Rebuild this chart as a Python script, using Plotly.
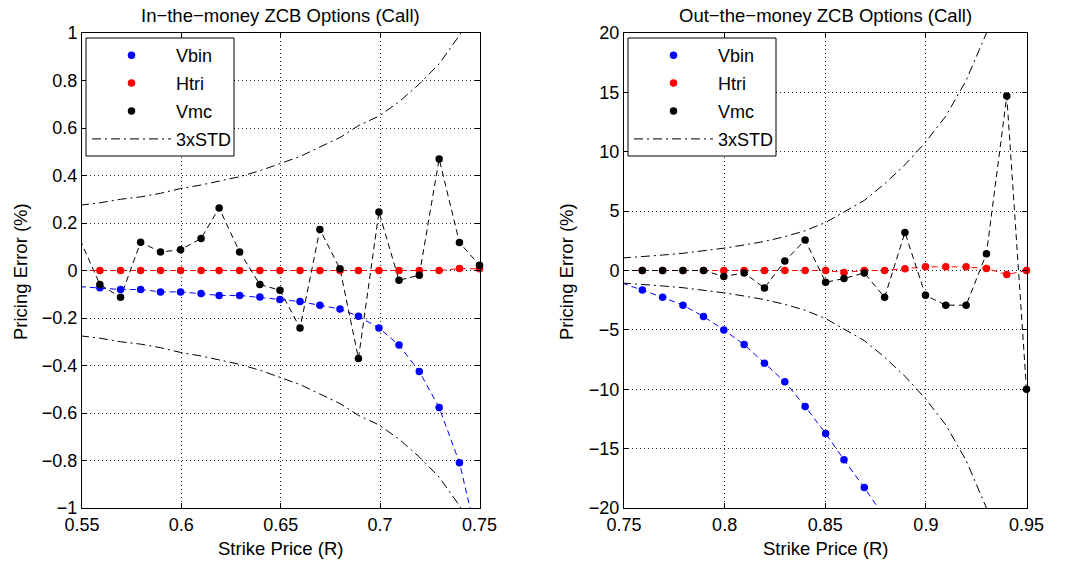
import plotly.graph_objects as go

FONT = "Liberation Sans, Arial, Helvetica, sans-serif"
MINUS = "\u2212"

# ---- In-the-money panel ----
itm_strike = [0.549, 0.559, 0.5694, 0.5795, 0.5895, 0.5996, 0.6099, 0.619, 0.6293, 0.6395,
              0.6496, 0.6597, 0.6697, 0.6798, 0.6891, 0.6994, 0.7095, 0.7197, 0.7297, 0.7399, 0.75]
itm_vbin = [-0.068, -0.073, -0.080, -0.080, -0.090, -0.090, -0.097, -0.105, -0.105, -0.112,
            -0.122, -0.131, -0.146, -0.162, -0.193, -0.242, -0.314, -0.425, -0.577, -0.809, -1.17]
itm_htri = [0.0, 0.0, 0.0, 0.0, 0.0, 0.0, 0.0, 0.0, 0.0, 0.0,
            0.0, 0.0, 0.0, 0.0, 0.0, 0.0, 0.0, 0.0, 0.0, 0.008, 0.007]
itm_vmc = [0.13, -0.059, -0.113, 0.119, 0.078, 0.087, 0.135, 0.263, 0.078, -0.059,
           -0.083, -0.242, 0.173, 0.007, -0.37, 0.246, -0.041, -0.02, 0.47, 0.118, 0.022]
itm_std3 = [0.275, 0.285, 0.30, 0.31, 0.325, 0.345, 0.36, 0.375, 0.395, 0.42,
            0.45, 0.48, 0.52, 0.56, 0.61, 0.65, 0.71, 0.785, 0.87, 0.99, 1.15]

# ---- Out-the-money panel ----
otm_strike = [0.749, 0.7591, 0.7692, 0.7793, 0.7895, 0.7996, 0.8097, 0.8198, 0.8299, 0.84,
              0.8502, 0.8593, 0.8694, 0.8795, 0.8896, 0.8998, 0.9099, 0.92, 0.9301, 0.9402, 0.95]
otm_vbin = [-1.05, -1.64, -2.26, -2.92, -3.87, -5.0, -6.24, -7.8, -9.37, -11.45,
            -13.72, -15.94, -18.28, -20.8, -23.6, -26.6, -29.9, -33.5, -37.4, -41.6, -46.2]
otm_htri = [0.0, 0.0, 0.0, 0.0, 0.0, 0.0, 0.0, 0.0, 0.0, 0.0,
            0.0, -0.17, 0.0, 0.0, 0.14, 0.31, 0.31, 0.31, 0.17, -0.34, 0.0]
otm_vmc = [0.0, 0.0, 0.0, 0.0, 0.0, -0.51, -0.2, -1.47, 0.79, 2.56,
           -0.99, -0.68, -0.2, -2.26, 3.21, -2.09, -2.92, -2.92, 1.41, 14.69, -10.0]
otm_std3 = [1.05, 1.15, 1.3, 1.45, 1.65, 1.88, 2.15, 2.45, 2.85, 3.35,
            4.05, 4.9, 5.9, 7.3, 8.9, 10.8, 13.0, 16.0, 20.0, 25.0, 32.0]

itm_xticks = [0.55, 0.6, 0.65, 0.7, 0.75]
itm_xlabels = ["0.55", "0.6", "0.65", "0.7", "0.75"]
itm_yticks = [-1, -0.8, -0.6, -0.4, -0.2, 0, 0.2, 0.4, 0.6, 0.8, 1]
itm_ylabels = [MINUS + "1", MINUS + "0.8", MINUS + "0.6", MINUS + "0.4", MINUS + "0.2",
               "0", "0.2", "0.4", "0.6", "0.8", "1"]
otm_xticks = [0.75, 0.8, 0.85, 0.9, 0.95]
otm_xlabels = ["0.75", "0.8", "0.85", "0.9", "0.95"]
otm_yticks = [-20, -15, -10, -5, 0, 5, 10, 15, 20]
otm_ylabels = [MINUS + "20", MINUS + "15", MINUS + "10", MINUS + "5", "0", "5", "10", "15", "20"]

W, H = 1066, 563
M_T, M_B = 33, 55
PLOT_H = H - M_T - M_B

fig = go.Figure()

DASH = "6px,4px"
DASHDOT = "9px,4px,2px,4px"


def add_panel(xa, ya, leg, strike, vbin, htri, vmc, std3, xr, yr):
    series = [("Vbin", vbin, "#0000ff"), ("Htri", htri, "#ff0000"), ("Vmc", vmc, "#000000")]
    # connecting dashed lines (clipped to the axes)
    for name, vals, color in series:
        fig.add_trace(go.Scatter(
            x=strike, y=vals, mode="lines", xaxis=xa, yaxis=ya,
            line=dict(color=color, width=1, dash=DASH),
            showlegend=False, hoverinfo="skip", legendgroup=leg + name))
    # +/- 3 standard deviation band
    fig.add_trace(go.Scatter(
        x=strike, y=std3, mode="lines", xaxis=xa, yaxis=ya, name="3xSTD",
        line=dict(color="#000000", width=1, dash=DASHDOT),
        legend=leg, legendrank=4, legendgroup=leg + "std"))
    fig.add_trace(go.Scatter(
        x=strike, y=[-v for v in std3], mode="lines", xaxis=xa, yaxis=ya,
        line=dict(color="#000000", width=1, dash=DASHDOT),
        showlegend=False, legendgroup=leg + "std"))
    # point markers inside the axis limits
    for rank, (name, vals, color) in enumerate(series, start=1):
        pts = [(x, y) for x, y in zip(strike, vals)
               if xr[0] - 1e-9 <= x <= xr[1] + 1e-9 and yr[0] <= y <= yr[1]]
        fig.add_trace(go.Scatter(
            x=[p[0] for p in pts], y=[p[1] for p in pts], mode="markers",
            xaxis=xa, yaxis=ya, name=name, cliponaxis=False,
            marker=dict(color=color, size=7.5, line=dict(width=0)),
            legend=leg, legendrank=rank, legendgroup=leg + name))


add_panel("x", "y", "legend", itm_strike, itm_vbin, itm_htri, itm_vmc, itm_std3,
          (0.55, 0.75), (-1, 1))
add_panel("x2", "y2", "legend2", otm_strike, otm_vbin, otm_htri, otm_vmc, otm_std3,
          (0.75, 0.95), (-20, 20))

axis_common = dict(
    showline=True, linecolor="#000000", linewidth=1, mirror="ticks",
    ticks="inside", ticklen=5, tickwidth=1, tickcolor="#000000",
    showgrid=True, gridcolor="rgba(0,0,0,0.85)", gridwidth=1, griddash="1px,3px",
    zeroline=False, automargin=False,
    tickfont=dict(family=FONT, size=18, color="#000000"),
)

L_DOM = [82 / W, 479.5 / W]
R_DOM = [624 / W, 1026.5 / W]


def px_x(px):
    return px / W


def px_y(py):
    return (H - M_B - py) / PLOT_H


legend_common = dict(xanchor="left", yanchor="top", y=px_y(37),
                     bgcolor="rgba(0,0,0,0)", borderwidth=0,
                     font=dict(family=FONT, size=18, color="#000000"),
                     itemwidth=79, tracegroupgap=1.5)

fig.update_layout(
    width=W, height=H,
    margin=dict(l=0, r=0, t=M_T, b=M_B),
    paper_bgcolor="#ffffff", plot_bgcolor="#ffffff",
    font=dict(family=FONT, size=18, color="#000000"),
    xaxis=dict(domain=L_DOM, range=[0.55, 0.75], tickmode="array",
               tickvals=itm_xticks, ticktext=itm_xlabels, anchor="y", **axis_common),
    yaxis=dict(domain=[0, 1], range=[-1, 1], tickmode="array",
               tickvals=itm_yticks, ticktext=itm_ylabels, anchor="x", **axis_common),
    xaxis2=dict(domain=R_DOM, range=[0.75, 0.95], tickmode="array",
                tickvals=otm_xticks, ticktext=otm_xlabels, anchor="y2", **axis_common),
    yaxis2=dict(domain=[0, 1], range=[-20, 20], tickmode="array",
                tickvals=otm_yticks, ticktext=otm_ylabels, anchor="x2", **axis_common),
    legend=dict(x=px_x(87), **legend_common),
    legend2=dict(x=px_x(629), **legend_common),
    showlegend=True,
)

# white legend frames with a black border
for left in (86, 628):
    fig.add_shape(type="rect", xref="paper", yref="paper", layer="above",
                  x0=px_x(left), x1=px_x(left + 148), y0=px_y(156), y1=px_y(38),
                  fillcolor="#ffffff", line=dict(color="#000000", width=1))

titles = [("In" + MINUS + "the" + MINUS + "money ZCB Options (Call)", sum(L_DOM) / 2),
          ("Out" + MINUS + "the" + MINUS + "money ZCB Options (Call)", sum(R_DOM) / 2)]
for text, xc in titles:
    fig.add_annotation(text=text, x=xc, y=px_y(16), xref="paper", yref="paper",
                       xanchor="center", yanchor="middle", showarrow=False,
                       font=dict(family=FONT, size=18.5, color="#000000"))
    fig.add_annotation(text="Strike Price (R)", x=xc, y=px_y(548), xref="paper", yref="paper",
                       xanchor="center", yanchor="middle", showarrow=False,
                       font=dict(family=FONT, size=18.5, color="#000000"))

for xc in (20, 566):
    fig.add_annotation(text="Pricing Error (%)", x=px_x(xc), y=px_y(272), xref="paper",
                       yref="paper", xanchor="center", yanchor="middle", textangle=-90,
                       showarrow=False, font=dict(family=FONT, size=18.5, color="#000000"))

fig.write_html("out.html")
